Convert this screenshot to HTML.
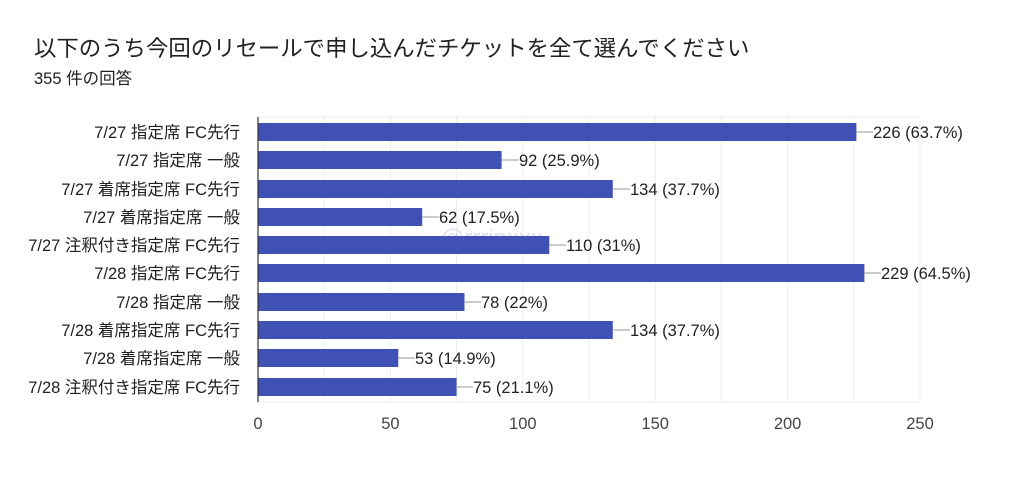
<!DOCTYPE html><html><head><meta charset="utf-8"><style>body{margin:0;background:#fff}svg{display:block}</style></head><body>
<svg width="1024" height="487" xmlns="http://www.w3.org/2000/svg" font-family="'Liberation Sans','Noto Sans CJK JP',sans-serif">
<rect width="1024" height="487" fill="#fff"/>
<text x="34" y="56" font-size="22.4" fill="#202124">以下のうち今回のリセールで申し込んだチケットを全て選んでください</text>
<text x="34" y="84" font-size="16.5" fill="#202124">355 件の回答</text>
<g stroke="#ececec" stroke-width="1">
<line x1="258" y1="117" x2="920" y2="117"/>
<line x1="258" y1="402" x2="920" y2="402"/>
<line x1="324.2" y1="117" x2="324.2" y2="402"/><line x1="390.4" y1="117" x2="390.4" y2="402"/><line x1="456.6" y1="117" x2="456.6" y2="402"/><line x1="522.8" y1="117" x2="522.8" y2="402"/><line x1="589" y1="117" x2="589" y2="402"/><line x1="655.2" y1="117" x2="655.2" y2="402"/><line x1="721.4" y1="117" x2="721.4" y2="402"/><line x1="787.6" y1="117" x2="787.6" y2="402"/><line x1="853.8" y1="117" x2="853.8" y2="402"/><line x1="920" y1="117" x2="920" y2="402"/>
</g>
<text x="440" y="246" font-size="24" fill="#c8cdf0" opacity="0.6">@rrrinxxx</text>
<g font-size="16.5" fill="#202124" text-anchor="end">
<text x="240" y="138">7/27 指定席 FC先行</text>
<text x="240" y="166">7/27 指定席 一般</text>
<text x="240" y="195">7/27 着席指定席 FC先行</text>
<text x="240" y="223">7/27 着席指定席 一般</text>
<text x="240" y="251">7/27 注釈付き指定席 FC先行</text>
<text x="240" y="279">7/28 指定席 FC先行</text>
<text x="240" y="308">7/28 指定席 一般</text>
<text x="240" y="336">7/28 着席指定席 FC先行</text>
<text x="240" y="364">7/28 着席指定席 一般</text>
<text x="240" y="393">7/28 注釈付き指定席 FC先行</text>
</g>
<g fill="#3f51b5">
<rect x="258" y="123" width="598.4" height="18"/>
<rect x="258" y="151" width="243.6" height="18"/>
<rect x="258" y="180" width="354.8" height="18"/>
<rect x="258" y="208" width="164.2" height="18"/>
<rect x="258" y="236" width="291.3" height="18"/>
<rect x="258" y="264" width="606.4" height="18"/>
<rect x="258" y="293" width="206.5" height="18"/>
<rect x="258" y="321" width="354.8" height="18"/>
<rect x="258" y="349" width="140.3" height="18"/>
<rect x="258" y="378" width="198.6" height="18"/>
</g>
<g stroke="#999" stroke-width="1">
<line x1="856" y1="132" x2="873" y2="132"/><line x1="502" y1="160" x2="519" y2="160"/><line x1="613" y1="189" x2="630" y2="189"/><line x1="422" y1="217" x2="439" y2="217"/><line x1="549" y1="245" x2="566" y2="245"/><line x1="864" y1="273" x2="881" y2="273"/><line x1="464" y1="302" x2="481" y2="302"/><line x1="613" y1="330" x2="630" y2="330"/><line x1="398" y1="358" x2="415" y2="358"/><line x1="456" y1="387" x2="473" y2="387"/>
</g>
<g font-size="16.5" fill="#202124">
<text x="873" y="138">226 (63.7%)</text>
<text x="519" y="166">92 (25.9%)</text>
<text x="630" y="195">134 (37.7%)</text>
<text x="439" y="223">62 (17.5%)</text>
<text x="566" y="251">110 (31%)</text>
<text x="881" y="279">229 (64.5%)</text>
<text x="481" y="308">78 (22%)</text>
<text x="630" y="336">134 (37.7%)</text>
<text x="415" y="364">53 (14.9%)</text>
<text x="473" y="393">75 (21.1%)</text>
</g>
<line x1="258" y1="117" x2="258" y2="402" stroke="#333" stroke-width="1.2"/>
<g font-size="16.5" fill="#444" text-anchor="middle">
<text x="258" y="429">0</text><text x="390.4" y="429">50</text><text x="522.8" y="429">100</text><text x="655.2" y="429">150</text><text x="787.6" y="429">200</text><text x="920" y="429">250</text>
</g>
</svg>
</body></html>
